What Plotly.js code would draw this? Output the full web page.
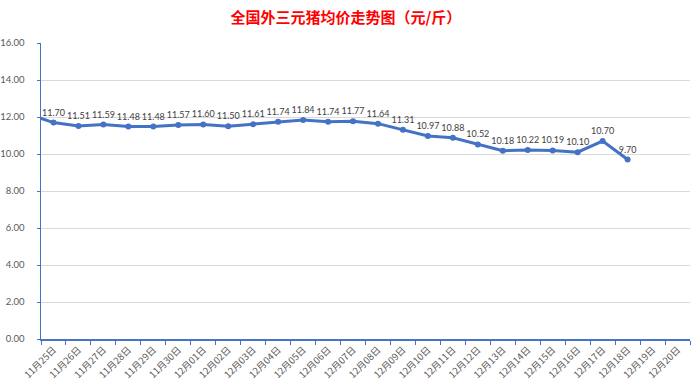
<!DOCTYPE html>
<html>
<head>
<meta charset="utf-8">
<script src="https://cdn.plot.ly/plotly-3.0.1.min.js"></script>
<style>html,body{margin:0;padding:0;background:#fff;}#chart{width:700px;height:389px;}</style>
</head>
<body>
<div id="chart"></div>
<script>
// The first category is the day before the visible range; only its clipped line segment shows.
const categories = ["11月24日","11月25日","11月26日","11月27日","11月28日","11月29日","11月30日",
  "12月01日","12月02日","12月03日","12月04日","12月05日","12月06日","12月07日","12月08日",
  "12月09日","12月10日","12月11日","12月12日","12月13日","12月14日","12月15日","12月16日",
  "12月17日","12月18日","12月19日","12月20日"];
const prices = [12.15, 11.70, 11.51, 11.59, 11.48, 11.48, 11.57, 11.60, 11.50, 11.61, 11.74, 11.84,
  11.74, 11.77, 11.64, 11.31, 10.97, 10.88, 10.52, 10.18, 10.22, 10.19, 10.10, 10.70, 9.70, null, null];
const labels = prices.map((v, i) => (i === 0 || v === null) ? "" : v.toFixed(2));
const yTicks = [0, 2, 4, 6, 8, 10, 12, 14, 16];
const yTickText = yTicks.map(v => v.toFixed(2));

const trace = {
  x: categories,
  y: prices,
  type: "scatter",
  mode: "lines+markers+text",
  text: labels,
  textposition: "top center",
  textfont: {family: "Lato, Liberation Sans, sans-serif", size: 9, color: "#404040"},
  line: {color: "#4472C4", width: 3},
  marker: {color: "#4472C4", size: 6},
  connectgaps: false,
  cliponaxis: true,
  hoverinfo: "skip"
};

const layout = {
  width: 700, height: 389,
  margin: {l: 41, r: 10, t: 43, b: 50},
  paper_bgcolor: "#fff", plot_bgcolor: "#fff",
  showlegend: false,
  title: {
    text: "<b>全国外三元猪均价走势图（元/斤）</b>",
    font: {family: "Noto Sans CJK SC, sans-serif", size: 15, color: "#FF0000"},
    x: 0.494, xanchor: "center", y: 0.955, yanchor: "middle"
  },
  xaxis: {
    type: "category",
    categoryorder: "array",
    categoryarray: categories,
    range: [0.5, categories.length - 0.5],
    tickangle: -45,
    tickson: "boundaries",
    ticks: "outside", ticklen: 4, tickcolor: "#4472C4", tickwidth: 1,
    showline: true, linecolor: "#4472C4", linewidth: 1.5,
    showgrid: false, zeroline: false,
    tickfont: {family: "Noto Sans CJK SC, sans-serif", size: 9.5, color: "#595959"},
    fixedrange: true
  },
  yaxis: {
    range: [0, 16],
    tickvals: yTicks,
    ticktext: yTickText,
    ticks: "outside", ticklen: 3, tickcolor: "#4472C4",
    showline: true, linecolor: "#4472C4", linewidth: 1.5,
    showgrid: true, gridcolor: "#D9D9D9", gridwidth: 1,
    zeroline: false,
    tickfont: {family: "Lato, Liberation Sans, sans-serif", size: 9.5, color: "#595959"},
    ticklabelstandoff: 10,
    fixedrange: true
  }
};

Plotly.newPlot("chart", [trace], layout, {displayModeBar: false, staticPlot: true});
</script>
</body>
</html>
